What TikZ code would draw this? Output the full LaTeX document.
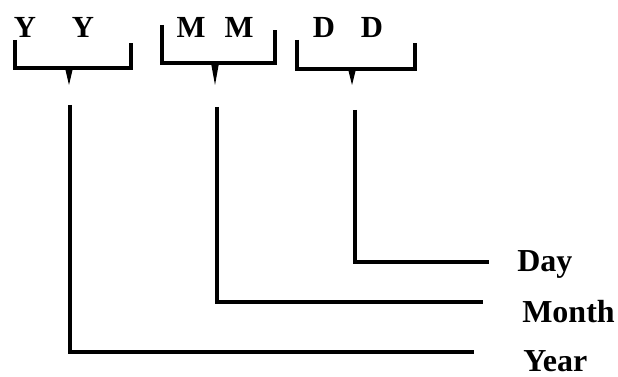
\documentclass[tikz,border=0pt]{standalone}
\usepackage{fontspec}
\setmainfont{Liberation Serif}
\usetikzlibrary{positioning,calc}

\begin{document}
\begin{tikzpicture}[x=0.75pt,y=-0.75pt,
  every node/.style={font=\fontsize{23}{27}\selectfont\bfseries, inner sep=0pt},
  label/.style={font=\fontsize{24}{28}\selectfont\bfseries, anchor=base west},
  bracket/.style={line width=2.5pt},
  wire/.style={line width=2.5pt}]
  \useasboundingbox (0,0) rectangle (618,377);
  \node (y1) at (25,27) {Y};
  \node (y2) at (83,27) {Y};
  \node (m1) at (191,27) {M};
  \node (m2) at (239,27) {M};
  \node (d1) at (324,27) {D};
  \node (d2) at (372,27) {D};
  \draw[bracket] (15,40) |- (131,68) -- (131,43);
  \draw[bracket] (162,25) |- (275,63) -- (275,30);
  \draw[bracket] (297,40) |- (415,69) -- (415,43);
  \coordinate (ytip) at (69,68);
  \coordinate (mtip) at (215,63);
  \coordinate (dtip) at (352,69);
  \fill (ytip) ++(-4,0) -- ++(8,0) -- ++(-4,17) -- cycle;
  \fill (mtip) ++(-4,0) -- ++(8,0) -- ++(-4,22) -- cycle;
  \fill (dtip) ++(-4,0) -- ++(8,0) -- ++(-4,16) -- cycle;
  \node[label] (day) at (517,272) {Day};
  \node[label] (month) at (522,323) {Month};
  \node[label] (year) at (523,372) {Year};
  \coordinate (ytop) at (70,105);
  \coordinate (mtop) at (217,107);
  \coordinate (dtop) at (355,110);
  \coordinate (yend) at (474,352);
  \coordinate (mend) at (483,302);
  \coordinate (dend) at (489,262);
  \draw[wire] (ytop) |- (yend);
  \draw[wire] (mtop) |- (mend);
  \draw[wire] (dtop) |- (dend);
\end{tikzpicture}
\end{document}
